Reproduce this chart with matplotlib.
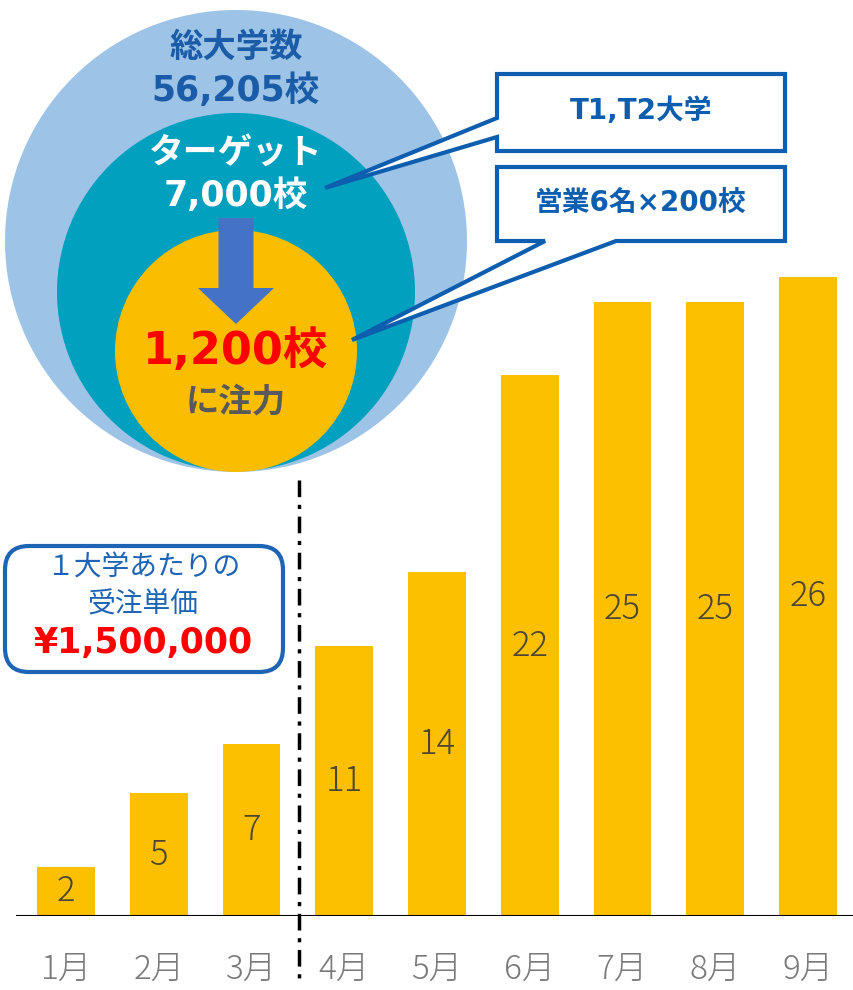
import numpy as np
import matplotlib.pyplot as plt
from matplotlib.patches import Circle, Polygon, FancyBboxPatch, FancyArrow

plt.rcParams['font.family'] = ['Noto Sans CJK JP', 'DejaVu Sans']

# data
months = ['1月', '2月', '3月', '4月', '5月', '6月', '7月', '8月', '9月']
orders = [2, 5, 7, 11, 14, 22, 25, 25, 26]

# colours
bar_yellow = '#fdc000'
blue_dark = '#1a5ca8'
num_font = ['DejaVu Sans', 'Noto Sans CJK JP']

fig = plt.figure(figsize=(8.54, 9.90), dpi=100)

# bar chart axes (pixel layout: baseline at y=916, top at y=250)
ax = fig.add_axes([0, 74 / 990, 1, 666 / 990])
x = np.arange(len(months))
bars = ax.bar(x, orders, width=0.625, color=bar_yellow, zorder=2)
ax.bar_label(bars, label_type='center', fontsize=25, color='#4d4630',
             family=['Noto Sans CJK JP'], fontweight='light')
ax.set_xlim(-66 / 92.75, 788 / 92.75)
ax.set_ylim(0, 666 / 24.58)
ax.axhline(0, xmin=0.02, color='black', lw=1.5, zorder=3)
ax.set_xticks(x, months)
ax.tick_params(axis='x', length=0, pad=26, labelsize=24, labelcolor='#7a7a7a')
for t in ax.get_xticklabels():
    t.set_fontweight('light')
ax.set_yticks([])
for s in ax.spines.values():
    s.set_visible(False)
ax.patch.set_alpha(0)

# overlay in pixel coordinates for the diagram
ov = fig.add_axes([0, 0, 1, 1], zorder=5)
ov.set_xlim(0, 854)
ov.set_ylim(990, 0)
ov.axis('off')

# nested circles
ov.add_patch(Circle((236, 241), 231, color='#9dc3e6', lw=0))
ov.add_patch(Circle((236, 292), 179, color='#00a0be', lw=0))
ov.add_patch(Circle((236, 351), 121, color='#fbbd00', lw=0))
ov.add_patch(FancyArrow(236, 218, 0, 106, width=35, head_width=76, head_length=36,
                        length_includes_head=True, color='#4472c4', lw=0))

ov.text(236, 47, '総大学数', ha='center', va='center', fontsize=24, fontweight='bold', color=blue_dark)
ov.text(236, 91, '56,205校', ha='center', va='center', fontsize=25, fontweight='bold',
        color=blue_dark, family=num_font)
ov.text(236, 152, 'ターゲット', ha='center', va='center', fontsize=25, fontweight='bold', color='white')
ov.text(236, 196, '7,000校', ha='center', va='center', fontsize=25, fontweight='bold',
        color='white', family=num_font)
ov.text(236, 351, '1,200校', ha='center', va='center', fontsize=32, fontweight='bold',
        color='#ff0000', family=num_font)
ov.text(236, 402, 'に注力', ha='center', va='center', fontsize=24, fontweight='bold', color='#595959')

# callouts
edge = '#0d5eaf'
ov.add_patch(Polygon([(497, 74), (785, 74), (785, 151), (497, 151), (497, 137),
                      (325, 188), (497, 118)], closed=True, fc='white', ec=edge, lw=3))
ov.add_patch(Polygon([(497, 167), (785, 167), (785, 241), (616, 241), (352, 340),
                      (545, 241), (497, 241)], closed=True, fc='white', ec=edge, lw=3))
ov.text(641, 111, 'T1,T2大学', ha='center', va='center', fontsize=20, fontweight='bold',
        color=edge, family=num_font)
ov.text(641, 203, '営業6名×200校', ha='center', va='center', fontsize=20, fontweight='bold',
        color=edge, family=num_font)

# unit price box
ov.add_patch(FancyBboxPatch((5, 546), 278, 126, boxstyle='round,pad=0,rounding_size=24',
                            fc='white', ec='#1e64b4', lw=3))
ov.text(143, 568, '１大学あたりの', ha='center', va='center', fontsize=20, color='#1e64b4')
ov.text(143, 605, '受注単価', ha='center', va='center', fontsize=20, color='#1e64b4')
ov.text(143, 643, '¥1,500,000', ha='center', va='center', fontsize=25, fontweight='bold',
        color='#ff0000', family=num_font)

# divider between 3月 and 4月
ov.plot([299, 299], [480, 985], color='black', lw=2.5, ls=(0, (4.8, 2.2, 1.2, 2.2)))

fig.savefig('out.png', dpi=100)
